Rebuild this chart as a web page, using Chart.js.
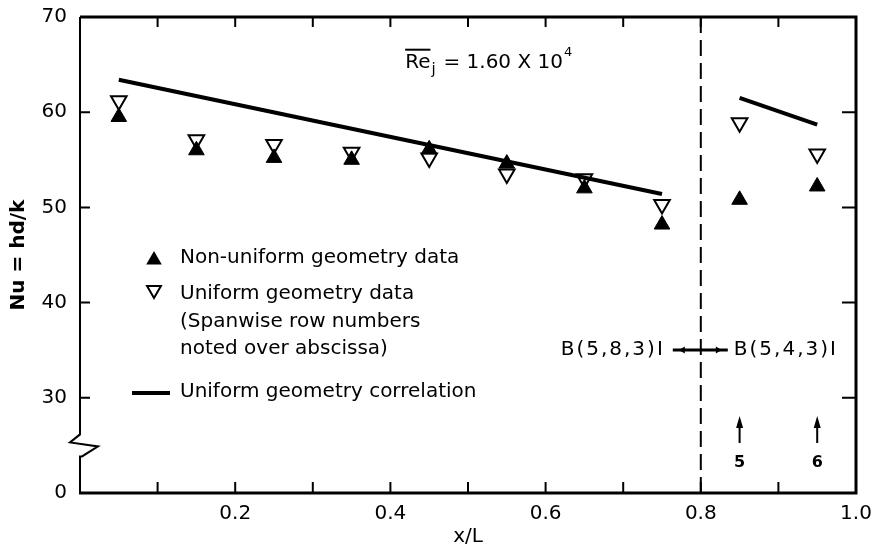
<!DOCTYPE html>
<html>
<head>
<meta charset="utf-8">
<script src="https://cdn.jsdelivr.net/npm/chart.js@4.4.0/dist/chart.umd.min.js"></script>
<style>
  html, body { margin: 0; padding: 0; background: #fff; }
</style>
</head>
<body>
<canvas id="myChart" width="878" height="552"></canvas>
<script>
// x/L stations of the spanwise rows
const xStations = [0.05, 0.15, 0.25, 0.35, 0.45, 0.55, 0.65, 0.75, 0.85, 0.95];
const nonUniformNu = [59.5, 56.0, 55.2, 55.0, 56.1, 54.6, 52.0, 48.2, 50.8, 52.2];
const uniformNu = [61.2, 57.1, 56.6, 55.8, 55.2, 53.5, 53.0, 50.3, 58.9, 55.6];
// uniform geometry correlation, two pieces
const corrX1 = [0.05, 0.75];
const corrY1 = [63.4, 51.4];
const corrX2 = [0.85, 0.95];
const corrY2 = [61.5, 58.7];
const dividerX = 0.8;
const rowLabels = ["5", "6"];
const rowLabelX = [0.85, 0.95];

const FONT = "'DejaVu Sans', sans-serif";
Chart.defaults.font.family = FONT;
Chart.defaults.color = '#000';

const toPts = (xs, ys) => xs.map((v, i) => ({x: v, y: ys[i]}));

function tri(ctx, x, y, r, down, fill) {
  const s = down ? -1 : 1;
  ctx.beginPath();
  ctx.moveTo(x, y - s * r);
  ctx.lineTo(x + r * 0.866, y + s * r / 2);
  ctx.lineTo(x - r * 0.866, y + s * r / 2);
  ctx.closePath();
  if (fill) ctx.fill(); else ctx.stroke();
}

const decor = {
  id: 'decor',
  beforeDatasetsDraw(chart) {
    const {ctx, chartArea: a, scales: {x, y}} = chart;
    ctx.save();
    ctx.strokeStyle = '#000';
    // dashed divider at 0.8
    const xd = x.getPixelForValue(dividerX);
    ctx.setLineDash([16, 7]);
    ctx.lineWidth = 2;
    ctx.beginPath(); ctx.moveTo(xd, a.top); ctx.lineTo(xd, a.bottom); ctx.stroke();
    ctx.setLineDash([]);

    // frame: top, right, bottom
    ctx.lineWidth = 3;
    ctx.beginPath();
    ctx.moveTo(a.left, a.top); ctx.lineTo(a.right, a.top);
    ctx.lineTo(a.right, a.bottom); ctx.lineTo(a.left - 1, a.bottom);
    ctx.stroke();
    // left axis with break
    const yb = y.getPixelForValue(25);
    ctx.lineWidth = 2;
    ctx.beginPath();
    ctx.moveTo(a.left, a.bottom);
    ctx.lineTo(a.left, yb + 11);
    ctx.lineTo(a.left + 2, yb + 11);
    ctx.lineTo(a.left + 18, yb + 1);
    ctx.lineTo(a.left - 10, yb - 3);
    ctx.lineTo(a.left, yb - 11);
    ctx.lineTo(a.left, a.top);
    ctx.stroke();

    // tick marks, pointing inward
    ctx.lineWidth = 2;
    for (let k = 1; k <= 9; k++) {
      const px = x.getPixelForValue(k / 10);
      ctx.beginPath();
      ctx.moveTo(px, a.bottom); ctx.lineTo(px, a.bottom - 11);
      ctx.moveTo(px, a.top); ctx.lineTo(px, a.top + 10);
      ctx.stroke();
    }
    [30, 40, 50, 60].forEach(v => {
      const py = y.getPixelForValue(v);
      ctx.beginPath();
      ctx.moveTo(a.left, py); ctx.lineTo(a.left + 10, py);
      ctx.moveTo(a.right, py); ctx.lineTo(a.right - 14, py);
      ctx.stroke();
    });
    ctx.restore();
  },
  afterDraw(chart) {
    const {ctx, chartArea: a, scales: {x, y}} = chart;
    ctx.save();
    ctx.fillStyle = '#000';
    ctx.strokeStyle = '#000';
    ctx.textBaseline = 'middle';
    ctx.textAlign = 'left';

    // legend
    const lx = a.left + 74, tx = a.left + 100;
    tri(ctx, lx, 260, 9, false, true);
    ctx.lineWidth = 2;
    tri(ctx, lx, 290, 8, true, false);
    ctx.lineWidth = 4;
    ctx.beginPath(); ctx.moveTo(a.left + 52, 393); ctx.lineTo(a.left + 90, 393); ctx.stroke();
    ctx.font = '20px ' + FONT;
    ctx.fillText('Non-uniform geometry data', tx, 258);
    ctx.fillText('Uniform geometry data', tx, 294);
    ctx.fillText('(Spanwise row numbers', tx, 322);
    ctx.fillText('noted over abscissa)', tx, 349);
    ctx.fillText('Uniform geometry correlation', tx, 392);

    // Reynolds number note
    let px = x.getPixelForValue(0.419);
    const py = y.getPixelForValue(65.2);
    ctx.font = '20px ' + FONT;
    const wRe = ctx.measureText('Re').width;
    ctx.fillText('Re', px, py);
    ctx.lineWidth = 2;
    ctx.beginPath(); ctx.moveTo(px, py - 13); ctx.lineTo(px + wRe, py - 13); ctx.stroke();
    px += wRe + 1;
    ctx.font = '15px ' + FONT;
    ctx.fillText('j', px, py + 7);
    px += 12;
    ctx.font = '20px ' + FONT;
    const main = '= 1.60 X 10';
    ctx.fillText(main, px, py);
    px += ctx.measureText(main).width + 1;
    ctx.font = '13px ' + FONT;
    ctx.fillText('4', px, py - 10);

    // configuration labels
    const yl = 350;
    ctx.font = '20px ' + FONT;
    ctx.letterSpacing = '2px';
    ctx.textAlign = 'right';
    ctx.fillText('B(5,8,3)I', x.getPixelForValue(dividerX) - 36, yl);
    ctx.textAlign = 'left';
    ctx.fillText('B(5,4,3)I', x.getPixelForValue(dividerX) + 33, yl);
    ctx.letterSpacing = '0px';
    const xd = x.getPixelForValue(dividerX);
    ctx.lineWidth = 3;
    ctx.beginPath(); ctx.moveTo(xd - 28, yl); ctx.lineTo(xd + 27, yl); ctx.stroke();
    // small outward arrowheads
    [[xd - 16, -1], [xd + 15, 1]].forEach(([hx, s]) => {
      ctx.beginPath();
      ctx.moveTo(hx + s * 6, yl); ctx.lineTo(hx, yl - 3.5); ctx.lineTo(hx, yl + 3.5); ctx.closePath(); ctx.fill();
    });

    // row number arrows
    ctx.textAlign = 'center';
    ctx.font = 'bold 16px ' + FONT;
    rowLabelX.forEach((v, i) => {
      const ax = x.getPixelForValue(v);
      ctx.lineWidth = 2;
      ctx.beginPath(); ctx.moveTo(ax, 443); ctx.lineTo(ax, 424); ctx.stroke();
      ctx.beginPath(); ctx.moveTo(ax, 416); ctx.lineTo(ax - 3.5, 428); ctx.lineTo(ax + 3.5, 428); ctx.closePath(); ctx.fill();
      ctx.fillText(rowLabels[i], ax, 463);
    });
    ctx.restore();
  }
};

const data = {
  datasets: [
    {
      label: 'Non-uniform geometry data',
      data: toPts(xStations, nonUniformNu),
      pointStyle: 'triangle',
      pointRadius: 9,
      backgroundColor: '#000',
      borderColor: '#000',
      borderWidth: 1
    },
    {
      label: 'Uniform geometry data',
      data: toPts(xStations, uniformNu),
      pointStyle: 'triangle',
      rotation: 180,
      pointRadius: 9,
      backgroundColor: 'rgba(255,255,255,0)',
      borderColor: '#000',
      borderWidth: 2
    },
    {
      label: 'Uniform geometry correlation',
      data: toPts(corrX1, corrY1),
      showLine: true,
      pointRadius: 0,
      borderColor: '#000',
      borderWidth: 4
    },
    {
      label: 'Uniform geometry correlation 2',
      data: toPts(corrX2, corrY2),
      showLine: true,
      pointRadius: 0,
      borderColor: '#000',
      borderWidth: 4
    }
  ]
};

const config = {
  type: 'scatter',
  data: data,
  options: {
    responsive: false,
    animation: false,
    devicePixelRatio: 1,
    layout: { padding: { top: 17, right: 22, left: 0, bottom: 0 } },
    plugins: {
      legend: { display: false },
      tooltip: { enabled: false }
    },
    scales: {
      x: {
        type: 'linear',
        min: 0, max: 1,
        border: { display: false },
        grid: { display: false, drawTicks: false },
        ticks: {
          stepSize: 0.1,
          autoSkip: false,
          maxRotation: 0,
          padding: 9,
          font: { size: 20 },
          callback: v => {
            const k = Math.round(v * 10);
            return (k > 0 && k % 2 === 0) ? (k / 10).toFixed(1) : '';
          }
        },
        title: { display: true, text: 'x/L', font: { size: 20 }, padding: { top: 0, bottom: 3 } },
        afterFit: s => { s.height = 59; s.paddingLeft = 0; s.paddingRight = 0; }
      },
      y: {
        min: 20, max: 70,
        border: { display: false },
        grid: { display: false, drawTicks: false },
        ticks: {
          stepSize: 10,
          padding: 13,
          font: { size: 20 },
          callback: v => v === 20 ? '0' : String(v)
        },
        title: { display: true, text: 'Nu = hd/k', font: { size: 20, weight: 'bold' }, padding: { top: 7, bottom: 0 } },
        afterFit: s => { s.width = 80; s.paddingTop = 0; s.paddingBottom = 0; }
      }
    }
  },
  plugins: [decor]
};

var ctx = document.getElementById('myChart').getContext('2d');
var myChart = new Chart(ctx, config);
</script>
</body>
</html>
